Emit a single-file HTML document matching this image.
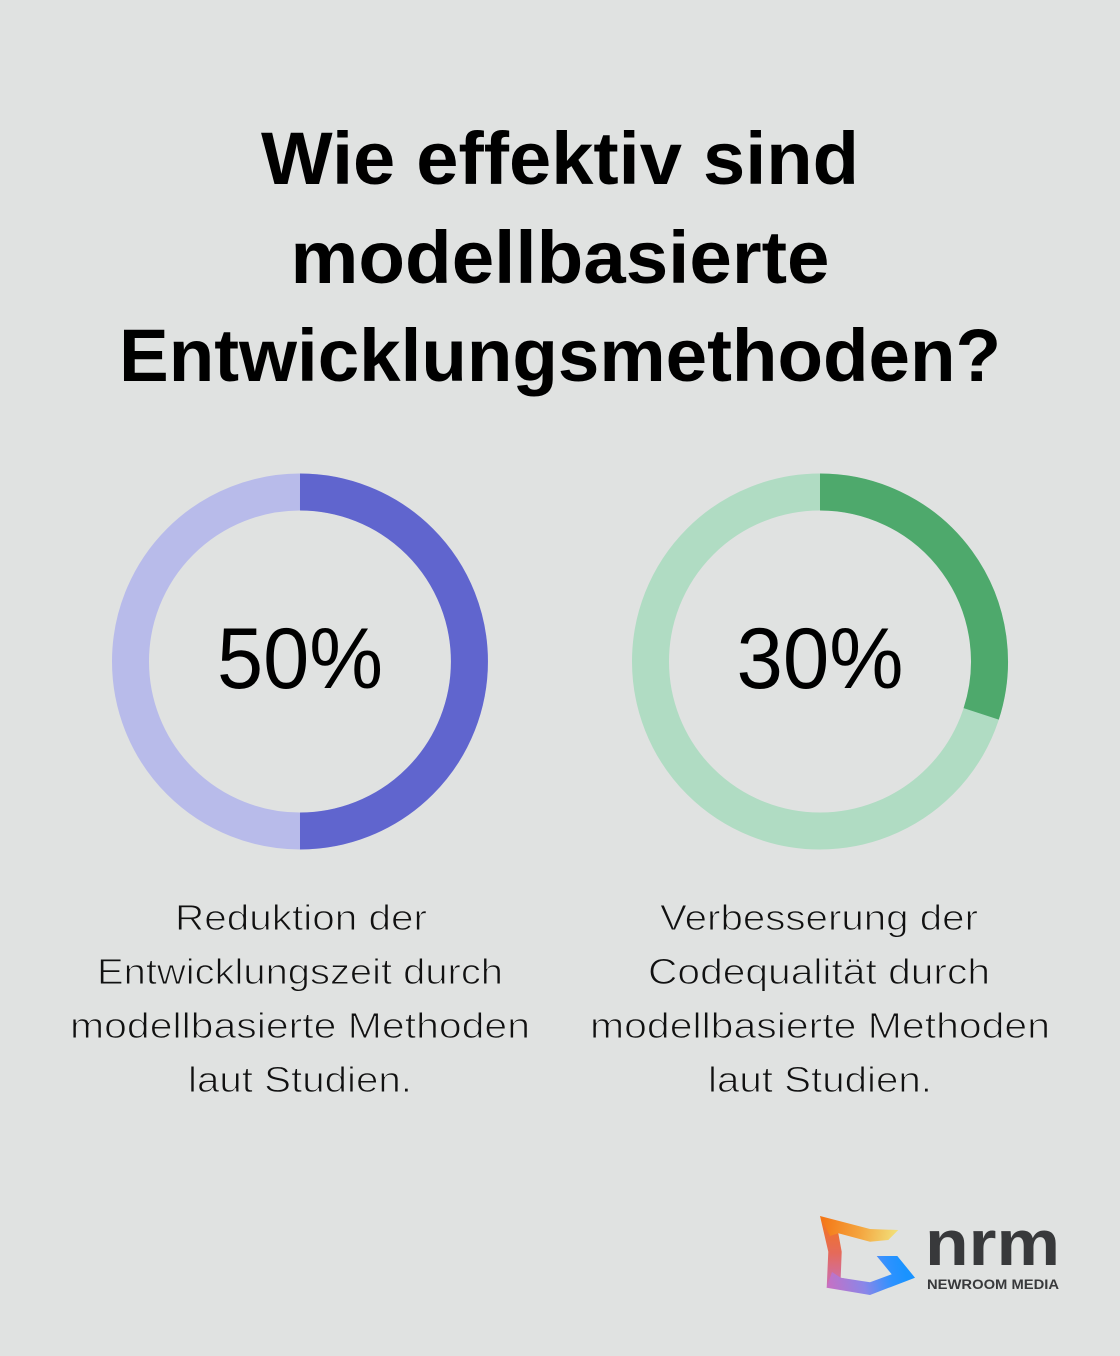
<!DOCTYPE html>
<html>
<head>
<meta charset="utf-8">
<style>
  html, body { margin: 0; padding: 0; background: #E0E2E1; }
  body { width: 1120px; height: 1356px; overflow: hidden; }
  svg { display: block; }
  text { font-family: "Liberation Sans", "DejaVu Sans", sans-serif; }
</style>
</head>
<body>
<svg width="1120" height="1356" viewBox="0 0 1120 1356" xmlns="http://www.w3.org/2000/svg">
  <defs>
    <linearGradient id="gTop" x1="822" y1="1222" x2="898" y2="1234" gradientUnits="userSpaceOnUse">
      <stop offset="0" stop-color="#F47716"/>
      <stop offset="0.5" stop-color="#F4A43E"/>
      <stop offset="1" stop-color="#F1E27C"/>
    </linearGradient>
    <linearGradient id="gLeft" x1="830" y1="1216" x2="830" y2="1290" gradientUnits="userSpaceOnUse">
      <stop offset="0" stop-color="#F47716"/>
      <stop offset="0.5" stop-color="#E56A5A"/>
      <stop offset="1" stop-color="#C670C4"/>
    </linearGradient>
    <linearGradient id="gBot" x1="828" y1="1286" x2="905" y2="1270" gradientUnits="userSpaceOnUse">
      <stop offset="0" stop-color="#C670C4"/>
      <stop offset="0.45" stop-color="#8A86E8"/>
      <stop offset="0.8" stop-color="#2E92FF"/>
      <stop offset="1" stop-color="#1A93FF"/>
    </linearGradient>
  </defs>

  <!-- Title -->
  <g fill="#000" font-weight="bold" font-size="74" text-anchor="middle">
    <text x="560" y="184" textLength="598" lengthAdjust="spacingAndGlyphs">Wie effektiv sind</text>
    <text x="560" y="283" textLength="539" lengthAdjust="spacingAndGlyphs">modellbasierte</text>
    <text x="560" y="381" textLength="882" lengthAdjust="spacingAndGlyphs">Entwicklungsmethoden?</text>
  </g>

  <!-- Left donut (50%) -->
  <circle cx="300" cy="661.5" r="169.5" fill="none" stroke="#B8BBEA" stroke-width="37"/>
  <path d="M300 492 A169.5 169.5 0 0 1 300 831" fill="none" stroke="#6065CE" stroke-width="37"/>
  <text x="300" y="688" font-size="86" text-anchor="middle" fill="#000" textLength="166" lengthAdjust="spacingAndGlyphs">50%</text>

  <!-- Right donut (30%) -->
  <circle cx="820" cy="661.5" r="169.5" fill="none" stroke="#B0DCC3" stroke-width="37"/>
  <path d="M820 492 A169.5 169.5 0 0 1 981.2 713.9" fill="none" stroke="#4EA96C" stroke-width="37"/>
  <text x="820" y="688" font-size="86" text-anchor="middle" fill="#000" textLength="167" lengthAdjust="spacingAndGlyphs">30%</text>

  <!-- Left caption -->
  <g fill="#111" font-size="36" text-anchor="middle" stroke="#E0E2E1" stroke-width="1">
    <text x="301" y="930" textLength="252" lengthAdjust="spacingAndGlyphs">Reduktion der</text>
    <text x="300" y="984" textLength="406" lengthAdjust="spacingAndGlyphs">Entwicklungszeit durch</text>
    <text x="300" y="1038" textLength="460" lengthAdjust="spacingAndGlyphs">modellbasierte Methoden</text>
    <text x="300" y="1092" textLength="224" lengthAdjust="spacingAndGlyphs">laut Studien.</text>
  </g>

  <!-- Right caption -->
  <g fill="#111" font-size="36" text-anchor="middle" stroke="#E0E2E1" stroke-width="1">
    <text x="819" y="930" textLength="318" lengthAdjust="spacingAndGlyphs">Verbesserung der</text>
    <text x="819" y="984" textLength="342" lengthAdjust="spacingAndGlyphs">Codequalität durch</text>
    <text x="820" y="1038" textLength="460" lengthAdjust="spacingAndGlyphs">modellbasierte Methoden</text>
    <text x="820" y="1092" textLength="224" lengthAdjust="spacingAndGlyphs">laut Studien.</text>
  </g>

  <!-- Logo icon: three overlapping arms -->
  <!-- left arm -->
  <polygon points="820,1216 838.3,1233.3 841.7,1251.7 840.7,1277.7 852,1280 826.7,1287.7 828.3,1251.7" fill="url(#gLeft)"/>
  <!-- bottom / right arm -->
  <polygon points="840.7,1277.7 870,1282.3 891.7,1274.3 876.7,1256 897.3,1256 915,1277.7 870,1295 826.7,1287.7 832,1272" fill="url(#gBot)"/>
  <!-- top arm -->
  <polygon points="820,1216 870,1229 898.3,1230 888.3,1240 870,1241.7 838.3,1233.3 830,1236" fill="url(#gTop)"/>

  <!-- Logo text -->
  <text x="925" y="1265" font-size="64" font-weight="bold" fill="#38393B" textLength="135" lengthAdjust="spacingAndGlyphs">nrm</text>
  <text x="927" y="1289" font-size="13.5" font-weight="bold" fill="#38393B" textLength="132" lengthAdjust="spacingAndGlyphs">NEWROOM MEDIA</text>
</svg>
</body>
</html>
